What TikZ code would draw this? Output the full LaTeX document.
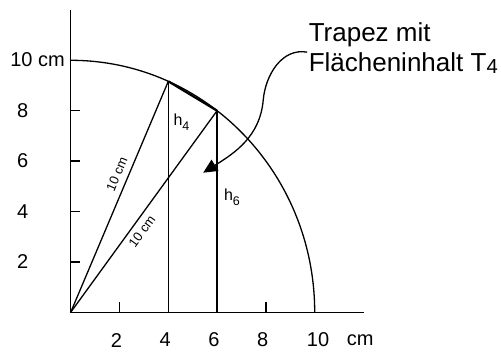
\documentclass[tikz,border=0pt]{standalone}
\usepackage{graphicx}
\usepackage{fontspec}
\setmainfont{Liberation Sans}
\usepackage{tikz}
\usetikzlibrary{arrows.meta,calc}
\newcommand{\idx}[2][0.3em]{\raisebox{-#1}{\scalebox{0.78}{#2}}}

\begin{document}
\begin{tikzpicture}[x=24.4pt,y=25.2pt,line width=1.3pt,
  every node/.style={inner sep=0pt},
  axlabel/.style={font=\fontsize{20}{24}\selectfont},
  radlabel/.style={font=\fontsize{13}{15}\selectfont,sloped,inner sep=1pt},
  hlabel/.style={font=\fontsize{16}{19}\selectfont},
  notetext/.style={font=\fontsize{26}{30}\selectfont,anchor=base west}]
\useasboundingbox (-70.7pt,-38.7pt) rectangle (430.3pt,312.3pt);
\coordinate (O) at (0,0);
\coordinate (P4) at (4,{sqrt(84)});
\coordinate (P6) at (6,8);
\coordinate (F4) at (4,0);
\coordinate (F6) at (6,0);
% axes and ticks
\draw (0,12) -- (O) -- (12,0);
\foreach \k in {2,4,6,8} {
  \draw (0,\k) -- (0.4,\k);
  \draw (\k,0) -- (\k,0.4);
  \node[axlabel] (ylab\k) at (-1.97,\k) {\k};
  \node[axlabel] (xlab\k) at (\k-0.13,-1.1) {\k};
}
\node[axlabel] (ylab10) at (-1.36,10.03) {10 cm};
\node[axlabel] (xlab10) at (10.14,-1.1) {10};
\node[axlabel] (xunit) at (11.86,-1.1) {cm};
% quarter circle
\draw (10,0) arc[start angle=0,end angle=90,radius=10];
% radii and heights
\draw (O) -- (P4) node[radlabel,pos=0.58,above=5pt] (r4) {10 cm};
\draw (O) -- (P6) node[radlabel,pos=0.43,below=4pt] (r6) {10 cm};
\draw (P4) -- (F4);
\draw (P6) -- (F6);
\draw[line width=2.2pt] (P4) -- (P6);
\node[hlabel] (h4) at (4.54,7.55) {h\idx{4}};
\node[hlabel] (h6) at (6.61,4.56) {h\idx{6}};
% note with arrow
\node[notetext] (trapez) at (9.73,10.74) {Trapez mit};
\node[notetext] (flaeche) at (9.73,9.55) {Flächeninhalt T\idx[0.06em]{4}};
\coordinate (bend) at (7.89,8.42);
\coordinate (tip) at (5.43,5.54);
\draw[-{Triangle[length=14pt,width=13pt]}] ([xshift=-1pt]flaeche.north west)
  to[out=170,in=85] (bend) to[out=265,in=32] (tip);
\end{tikzpicture}
\end{document}
